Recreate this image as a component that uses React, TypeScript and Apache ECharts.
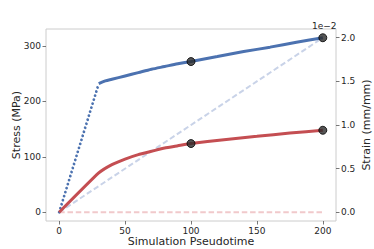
import React, { useEffect, useRef } from "react";
import * as echarts from "echarts";

// Simulation pseudotime points
const elasticTimes = [0, 30];
const blueElasticStress = [0, 232];
const plasticTimes = [30, 35, 40, 50, 60, 70, 80, 90, 100, 120, 140, 160, 180, 200];
const bluePlasticStress = [232, 237, 240, 246, 252, 258, 263, 268, 272, 281, 290, 298, 307, 315];
const redTimes = [0, 30, 40, 50, 60, 70, 80, 90, 100, 125, 150, 175, 200];
const redStress = [0, 71, 86, 96, 104, 110, 116, 120, 124, 131, 137, 143, 148];
const strainTimes = [0, 200];
const blueStrain = [0, 2.0]; // x 1e-2
const redStrain = [0, 0]; // x 1e-2
const markerTimes = [100, 200];
const xTicks = [0, 50, 100, 150, 200];
const yLeftTicks = [0, 100, 200, 300];
const yRightTicks = [0, 0.5, 1.0, 1.5, 2.0];

const FONT = "DejaVu Sans";
const pair = (xs: number[], ys: number[]) => xs.map((x, i) => [x, ys[i]]);
const pick = (xs: number[], ys: number[], ts: number[]) =>
  ts.map((t) => [t, ys[xs.indexOf(t)]]);

export default function App() {
  const ref = useRef<HTMLDivElement>(null);
  useEffect(() => {
    document.body.style.margin = "0";
    if (!ref.current) return;
    const chart = echarts.init(ref.current, null, { renderer: "svg" });
    const tickStyle = { show: true, length: 3.5, lineStyle: { color: "#555", width: 0.8 } };
    const labelBase = { color: "#262626", fontFamily: FONT, fontSize: 9 };
    const nameStyle = { color: "#262626", fontFamily: FONT, fontSize: 11 };
    chart.setOption({
      animation: false,
      grid: {
        left: 46,
        top: 29,
        right: 38,
        bottom: 28,
        show: true,
        borderColor: "#cccccc",
        borderWidth: 1,
        containLabel: false,
        outerBoundsMode: "none",
      },
      xAxis: {
        type: "value",
        min: -10,
        max: 210,
        name: "Simulation Pseudotime",
        nameLocation: "middle",
        nameGap: 15,
        nameMoveOverlap: false,
        nameTextStyle: nameStyle,
        axisLine: { show: false, onZero: false },
        splitLine: { show: false },
        axisTick: { ...tickStyle, customValues: xTicks },
        axisLabel: { ...labelBase, margin: 5, customValues: xTicks },
      },
      yAxis: [
        {
          type: "value",
          min: -15.75,
          max: 330.75,
          name: "Stress (MPa)",
          nameLocation: "middle",
          nameGap: 24,
          nameMoveOverlap: false,
          nameRotate: 90,
          nameTextStyle: nameStyle,
          axisLine: { show: false, onZero: false },
          splitLine: { show: false },
          axisTick: { ...tickStyle, customValues: yLeftTicks },
          axisLabel: { ...labelBase, margin: 5, customValues: yLeftTicks },
        },
        {
          type: "value",
          min: -0.1,
          max: 2.1,
          position: "right",
          name: "Strain (mm/mm)",
          nameLocation: "middle",
          nameGap: 25,
          nameMoveOverlap: false,
          nameRotate: 90,
          nameTextStyle: nameStyle,
          axisLine: { show: false, onZero: false },
          splitLine: { show: false },
          axisTick: { ...tickStyle, customValues: yRightTicks },
          axisLabel: {
            ...labelBase,
            margin: 5,
            customValues: yRightTicks,
            formatter: (v: number) => v.toFixed(1),
          },
        },
      ],
      graphic: [
        {
          type: "text",
          left: 312,
          top: 21,
          style: { text: "1e\u22122", fill: "#262626", font: `9px ${FONT}` },
        },
      ],
      series: [
        {
          type: "line",
          yAxisIndex: 1,
          data: pair(strainTimes, blueStrain),
          symbol: "none",
          lineStyle: { color: "#c9d3e8", width: 2, type: [5.5, 2.8] },
          z: 1,
        },
        {
          type: "line",
          yAxisIndex: 1,
          data: pair(strainTimes, redStrain),
          symbol: "none",
          lineStyle: { color: "#f1c9cb", width: 2, type: [5.5, 2.8] },
          z: 1,
        },
        {
          type: "line",
          data: pair(elasticTimes, blueElasticStress),
          symbol: "none",
          lineStyle: { color: "#4c72b0", width: 2.8, type: [0.01, 4.2], cap: "round" },
          z: 2,
        },
        {
          type: "line",
          data: pair(plasticTimes, bluePlasticStress),
          symbol: "none",
          smooth: 0.3,
          lineStyle: { color: "#4c72b0", width: 3 },
          z: 2,
        },
        {
          type: "line",
          data: pair(redTimes, redStress),
          symbol: "none",
          smooth: 0.15,
          lineStyle: { color: "#c44e52", width: 3 },
          z: 2,
        },
        {
          type: "scatter",
          data: [
            ...pick(plasticTimes, bluePlasticStress, markerTimes),
            ...pick(redTimes, redStress, markerTimes),
          ],
          symbol: "circle",
          symbolSize: 8,
          itemStyle: { color: "#2a2a2a", borderColor: "#000", borderWidth: 1 },
          z: 5,
        },
      ],
    });
    return () => chart.dispose();
  }, []);
  return <div ref={ref} style={{ width: 374, height: 249 }} />;
}
